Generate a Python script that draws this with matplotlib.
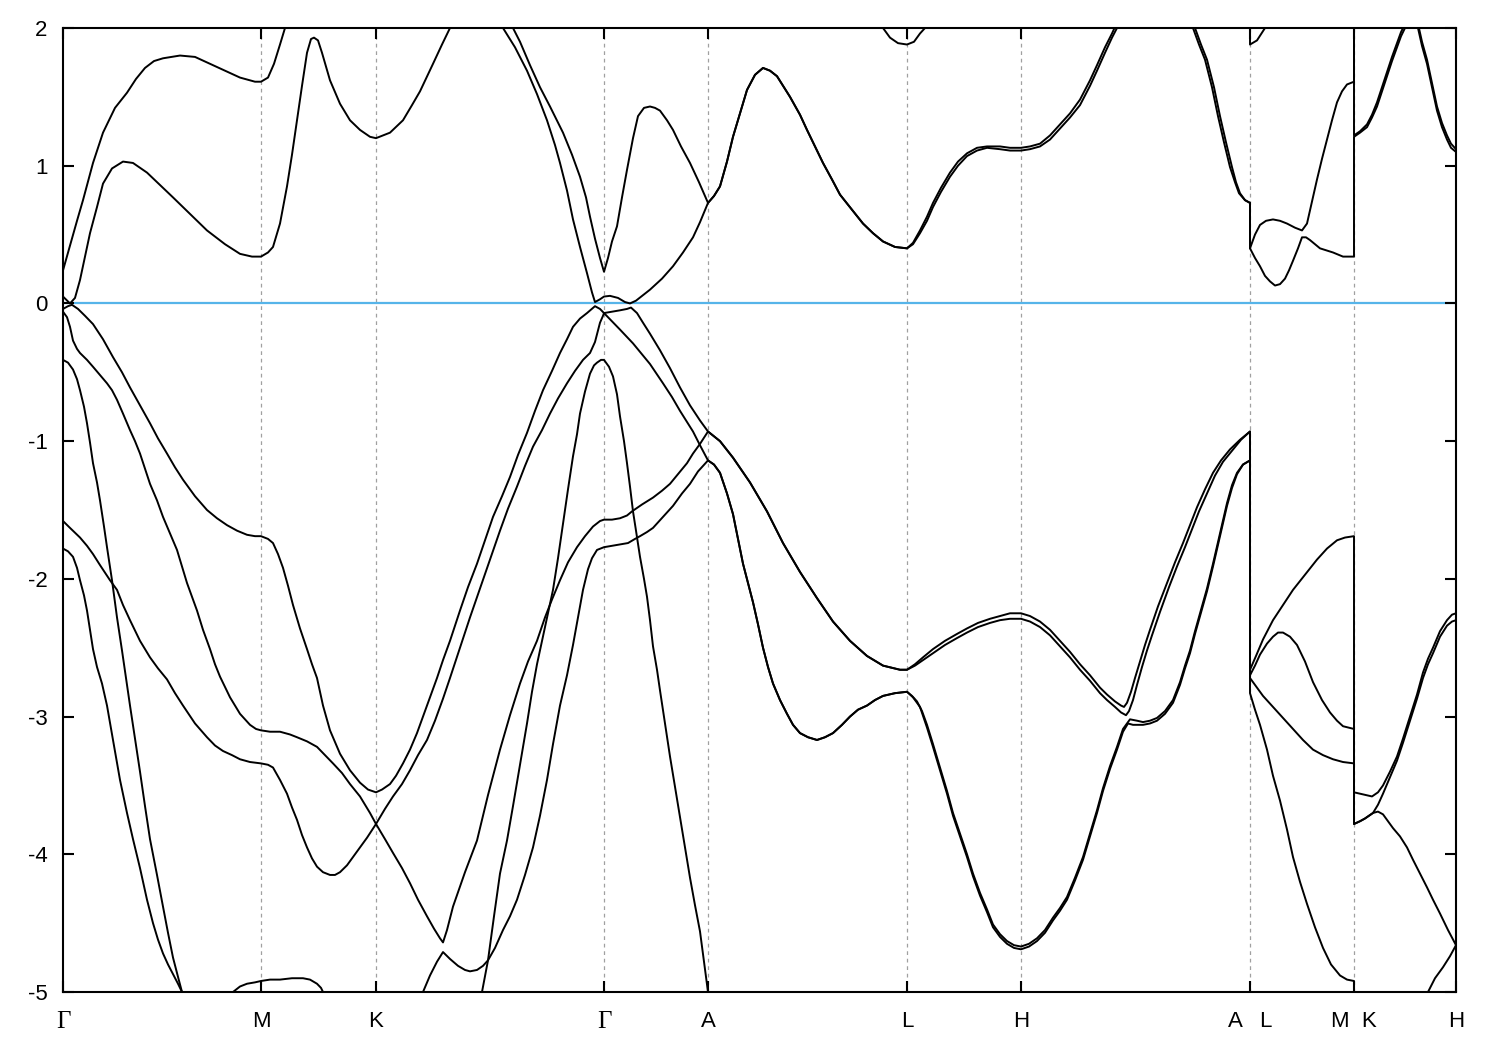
import numpy as np
import matplotlib.pyplot as plt

plt.rcParams['font.family'] = ['Liberation Sans', 'DejaVu Sans']
plt.rcParams['axes.unicode_minus'] = False

# high-symmetry points along the k-path
kticks = [0.00, 1.98, 3.13, 5.41, 6.45, 8.44, 9.58, 11.87, 12.91, 13.93]
klabels = ['Γ', 'M', 'K', 'Γ', 'A', 'L', 'H', 'A   L', 'M  K', 'H']

# ---------------- conduction bands ----------------
c1 = [(0.00, 0.24), (0.07, 0.42), (0.14, 0.60), (0.20, 0.75), (0.30, 1.02), (0.40, 1.24),
      (0.52, 1.42), (0.64, 1.53), (0.73, 1.63), (0.82, 1.71), (0.91, 1.76), (1.00, 1.78),
      (1.17, 1.80), (1.32, 1.79), (1.44, 1.75), (1.62, 1.69), (1.77, 1.64), (1.92, 1.61),
      (1.98, 1.61), (2.05, 1.64), (2.11, 1.74), (2.17, 1.88), (2.22, 2.00), (2.27, 2.20)]

c2 = [(0.00, 0.05), (0.07, 0.00), (0.12, 0.04), (0.17, 0.17), (0.22, 0.34), (0.27, 0.51),
      (0.34, 0.70), (0.40, 0.87), (0.49, 0.98), (0.60, 1.03), (0.70, 1.02), (0.84, 0.95),
      (0.97, 0.86), (1.10, 0.77), (1.27, 0.65), (1.44, 0.53), (1.62, 0.43), (1.77, 0.36),
      (1.89, 0.34), (1.98, 0.34), (2.05, 0.37), (2.10, 0.41), (2.17, 0.58), (2.24, 0.85),
      (2.29, 1.08), (2.34, 1.33), (2.39, 1.58), (2.44, 1.82), (2.48, 1.92), (2.51, 1.93),
      (2.55, 1.91), (2.59, 1.82), (2.67, 1.62), (2.77, 1.45), (2.87, 1.33), (2.97, 1.26),
      (3.07, 1.21), (3.13, 1.20), (3.27, 1.24), (3.40, 1.33), (3.49, 1.44), (3.57, 1.54),
      (3.70, 1.74), (3.79, 1.88), (3.87, 2.00), (3.93, 2.15)]

cA_kg = [(4.35, 2.15), (4.40, 2.00), (4.52, 1.86), (4.64, 1.69), (4.74, 1.52), (4.84, 1.33),
         (4.92, 1.15), (4.97, 1.02), (5.04, 0.82), (5.10, 0.61), (5.17, 0.41), (5.24, 0.22),
         (5.29, 0.08), (5.32, 0.01), (5.37, 0.03), (5.41, 0.05), (5.47, 0.055), (5.55, 0.04),
         (5.62, 0.01), (5.67, 0.00), (5.73, 0.02), (5.87, 0.10), (5.99, 0.18), (6.10, 0.27),
         (6.20, 0.37), (6.30, 0.48), (6.37, 0.59), (6.45, 0.73)]

cB_kg = [(4.45, 2.15), (4.50, 2.00), (4.57, 1.90), (4.67, 1.73), (4.77, 1.57), (4.87, 1.43),
         (5.00, 1.24), (5.09, 1.08), (5.17, 0.92), (5.23, 0.77), (5.27, 0.63), (5.32, 0.47),
         (5.37, 0.33), (5.41, 0.23), (5.45, 0.33), (5.49, 0.45), (5.54, 0.56), (5.59, 0.77),
         (5.64, 0.97), (5.70, 1.20), (5.75, 1.36), (5.81, 1.42), (5.87, 1.43), (5.92, 1.42),
         (5.97, 1.40), (6.04, 1.33), (6.10, 1.26), (6.18, 1.14), (6.27, 1.02), (6.36, 0.88),
         (6.45, 0.73)]

c_al = [(6.51, 0.78), (6.57, 0.85), (6.64, 1.03), (6.70, 1.21), (6.77, 1.38), (6.84, 1.55),
        (6.92, 1.66), (7.00, 1.71), (7.07, 1.69), (7.14, 1.65), (7.27, 1.50), (7.37, 1.37),
        (7.44, 1.26), (7.52, 1.14), (7.60, 1.02), (7.69, 0.90), (7.77, 0.79), (7.89, 0.68),
        (8.00, 0.58), (8.10, 0.51), (8.20, 0.45), (8.32, 0.41), (8.44, 0.40)]

cA_lha = [(8.50, 0.43), (8.57, 0.51), (8.64, 0.60), (8.70, 0.70), (8.78, 0.81), (8.87, 0.92),
          (8.95, 1.00), (9.04, 1.07), (9.14, 1.11), (9.24, 1.13), (9.37, 1.12), (9.47, 1.11),
          (9.58, 1.11), (9.67, 1.12), (9.77, 1.14), (9.87, 1.19), (9.97, 1.27), (10.07, 1.35),
          (10.17, 1.44), (10.27, 1.58), (10.34, 1.69), (10.42, 1.82), (10.49, 1.93), (10.54, 2.00),
          (10.59, 2.10), (11.25, 2.15), (11.32, 2.00), (11.38, 1.88), (11.44, 1.77), (11.51, 1.57),
          (11.57, 1.36), (11.63, 1.17), (11.69, 0.99), (11.73, 0.88), (11.77, 0.80), (11.82, 0.75),
          (11.87, 0.73)]

cB_lha = [(8.50, 0.44), (8.57, 0.53), (8.64, 0.63), (8.70, 0.73), (8.78, 0.84), (8.87, 0.95),
          (8.95, 1.03), (9.04, 1.09), (9.14, 1.13), (9.24, 1.14), (9.37, 1.14), (9.47, 1.13),
          (9.58, 1.13), (9.67, 1.14), (9.77, 1.16), (9.87, 1.22), (9.97, 1.30), (10.07, 1.38),
          (10.17, 1.48), (10.27, 1.62), (10.34, 1.73), (10.42, 1.86), (10.49, 1.96), (10.54, 2.04),
          (10.59, 2.14), (11.23, 2.15), (11.30, 2.00), (11.36, 1.88), (11.42, 1.77), (11.49, 1.57),
          (11.55, 1.36), (11.61, 1.17), (11.67, 0.99), (11.72, 0.88), (11.76, 0.80), (11.82, 0.75),
          (11.87, 0.73)]

cA_lmk = [(11.87, 0.40), (11.92, 0.50), (11.97, 0.57), (12.03, 0.60), (12.10, 0.61), (12.17, 0.60),
          (12.24, 0.58), (12.32, 0.55), (12.39, 0.53), (12.44, 0.58), (12.49, 0.74), (12.54, 0.90),
          (12.59, 1.05), (12.64, 1.19), (12.69, 1.33), (12.74, 1.46), (12.79, 1.54), (12.84, 1.59),
          (12.91, 1.61), (12.91, 2.40)]

cB_lmk = [(11.87, 0.40), (11.92, 0.33), (11.97, 0.27), (12.02, 0.20), (12.07, 0.16), (12.12, 0.13),
          (12.17, 0.14), (12.22, 0.18), (12.26, 0.24), (12.30, 0.31), (12.35, 0.40), (12.39, 0.48),
          (12.43, 0.48), (12.47, 0.46), (12.57, 0.40), (12.70, 0.37), (12.80, 0.34), (12.91, 0.34),
          (12.91, 1.21), (12.97, 1.24), (13.04, 1.28), (13.09, 1.35), (13.14, 1.43), (13.19, 1.54),
          (13.24, 1.65), (13.29, 1.76), (13.34, 1.86), (13.38, 1.94), (13.42, 2.00), (13.45, 2.10),
          (13.51, 2.10), (13.55, 2.00), (13.59, 1.87), (13.64, 1.74), (13.69, 1.57), (13.74, 1.40),
          (13.79, 1.28), (13.84, 1.19), (13.88, 1.13), (13.93, 1.10)]

cC = [(8.15, 2.12), (8.20, 2.00), (8.27, 1.93), (8.35, 1.89), (8.44, 1.88), (8.51, 1.90),
      (8.57, 1.96), (8.62, 2.00), (8.67, 2.12), (11.87, 2.40), (11.87, 1.88), (11.94, 1.91),
      (12.02, 2.00), (12.08, 2.12), (12.91, 2.40), (12.91, 1.22), (12.97, 1.25), (13.04, 1.30),
      (13.09, 1.37), (13.14, 1.46), (13.19, 1.57), (13.24, 1.68), (13.29, 1.79), (13.34, 1.89),
      (13.38, 1.97), (13.42, 2.03), (13.45, 2.12), (13.51, 2.12), (13.55, 2.03), (13.59, 1.90),
      (13.64, 1.77), (13.69, 1.60), (13.74, 1.43), (13.79, 1.31), (13.84, 1.22), (13.88, 1.16),
      (13.93, 1.12)]

# ---------------- valence bands ----------------
v1_gmkg = [(0.00, -0.04), (0.05, -0.02), (0.09, -0.01), (0.15, -0.04), (0.22, -0.09), (0.30, -0.15),
           (0.40, -0.26), (0.50, -0.39), (0.59, -0.50), (0.67, -0.61), (0.77, -0.74), (0.87, -0.87),
           (0.95, -0.98), (1.04, -1.09), (1.12, -1.19), (1.20, -1.28), (1.32, -1.40), (1.44, -1.50),
           (1.54, -1.56), (1.64, -1.61), (1.74, -1.65), (1.84, -1.68), (1.92, -1.69), (1.98, -1.69),
           (2.05, -1.71), (2.10, -1.74), (2.15, -1.82), (2.20, -1.92), (2.25, -2.05), (2.30, -2.19),
           (2.37, -2.36), (2.44, -2.51), (2.49, -2.62), (2.54, -2.72), (2.60, -2.92), (2.67, -3.10),
           (2.77, -3.27), (2.87, -3.39), (2.97, -3.48), (3.05, -3.53), (3.13, -3.55), (3.19, -3.53),
           (3.27, -3.49), (3.33, -3.43), (3.40, -3.34), (3.47, -3.24), (3.54, -3.12), (3.60, -3.00),
           (3.67, -2.86), (3.74, -2.72), (3.80, -2.59), (3.87, -2.45), (3.97, -2.23), (4.05, -2.06),
           (4.14, -1.89), (4.22, -1.72), (4.30, -1.55), (4.39, -1.40), (4.47, -1.26), (4.55, -1.10),
           (4.64, -0.94), (4.72, -0.78), (4.80, -0.63), (4.89, -0.49), (4.97, -0.36), (5.04, -0.26),
           (5.10, -0.17), (5.17, -0.11), (5.24, -0.07), (5.32, -0.02), (5.37, -0.04), (5.41, -0.07)]
v1_ga = [(5.49, -0.13), (5.57, -0.19), (5.70, -0.29), (5.87, -0.44), (6.00, -0.58), (6.09, -0.68),
         (6.17, -0.78), (6.24, -0.86), (6.30, -0.93), (6.37, -1.03), (6.45, -1.14)]

v2_gmkg = [(0.00, -0.06), (0.04, -0.10), (0.07, -0.17), (0.10, -0.27), (0.14, -0.33), (0.17, -0.36),
           (0.24, -0.41), (0.30, -0.46), (0.37, -0.52), (0.44, -0.58), (0.49, -0.63), (0.54, -0.70),
           (0.60, -0.80), (0.67, -0.92), (0.72, -1.00), (0.77, -1.09), (0.82, -1.20), (0.87, -1.31),
           (0.94, -1.43), (1.00, -1.55), (1.07, -1.67), (1.14, -1.79), (1.19, -1.91), (1.24, -2.03),
           (1.29, -2.13), (1.34, -2.23), (1.40, -2.37), (1.47, -2.51), (1.52, -2.62), (1.57, -2.71),
           (1.67, -2.86), (1.77, -2.98), (1.87, -3.06), (1.93, -3.09), (1.98, -3.10), (2.07, -3.11),
           (2.17, -3.11), (2.27, -3.13), (2.34, -3.15), (2.44, -3.18), (2.54, -3.22), (2.62, -3.28),
           (2.70, -3.34), (2.79, -3.41), (2.87, -3.49), (2.97, -3.58), (3.07, -3.70), (3.13, -3.78),
           (3.22, -3.89), (3.30, -3.99), (3.39, -4.10), (3.47, -4.21), (3.55, -4.33), (3.64, -4.45),
           (3.71, -4.54), (3.77, -4.61), (3.80, -4.64), (3.84, -4.55), (3.90, -4.38), (4.02, -4.13),
           (4.14, -3.90), (4.25, -3.57), (4.37, -3.24), (4.47, -2.99), (4.57, -2.76), (4.65, -2.60),
           (4.74, -2.45), (4.82, -2.28), (4.89, -2.15), (4.97, -2.01), (5.05, -1.88), (5.14, -1.77),
           (5.22, -1.69), (5.30, -1.62), (5.37, -1.58), (5.41, -1.57)]
v2_ga = [(5.49, -1.57), (5.57, -1.56), (5.64, -1.54), (5.69, -1.51), (5.79, -1.46), (5.90, -1.41),
         (5.99, -1.36), (6.07, -1.31), (6.16, -1.23), (6.24, -1.16), (6.30, -1.09), (6.37, -1.02),
         (6.45, -0.93)]

v3_gm = [(0.00, -0.41), (0.05, -0.43), (0.10, -0.48), (0.14, -0.55), (0.17, -0.63), (0.21, -0.75),
         (0.24, -0.87), (0.27, -1.01), (0.30, -1.16), (0.34, -1.30), (0.37, -1.43), (0.41, -1.62),
         (0.44, -1.77), (0.49, -2.01), (0.54, -2.28), (0.59, -2.52), (0.63, -2.72), (0.67, -2.92),
         (0.72, -3.16), (0.77, -3.40), (0.82, -3.65), (0.87, -3.89), (0.94, -4.15), (1.00, -4.38),
         (1.05, -4.57), (1.10, -4.75), (1.15, -4.89), (1.19, -5.00), (1.23, -5.20)]
v3_kga = [(4.15, -5.20), (4.19, -5.00), (4.25, -4.77), (4.31, -4.45), (4.37, -4.14), (4.44, -3.90),
          (4.50, -3.65), (4.57, -3.35), (4.64, -3.05), (4.69, -2.82), (4.74, -2.62), (4.82, -2.35),
          (4.90, -2.08), (4.95, -1.85), (5.00, -1.60), (5.05, -1.35), (5.10, -1.11), (5.14, -0.95),
          (5.17, -0.80), (5.22, -0.64), (5.27, -0.51), (5.31, -0.45), (5.34, -0.43), (5.38, -0.41),
          (5.41, -0.41), (5.46, -0.46), (5.50, -0.53), (5.54, -0.66), (5.57, -0.82), (5.61, -1.00),
          (5.64, -1.16), (5.67, -1.33), (5.70, -1.51), (5.73, -1.65), (5.77, -1.84), (5.81, -2.00),
          (5.84, -2.13), (5.87, -2.30), (5.90, -2.49), (5.94, -2.66), (5.97, -2.81), (6.02, -3.05),
          (6.07, -3.29), (6.12, -3.51), (6.17, -3.73), (6.22, -3.95), (6.27, -4.17), (6.32, -4.37),
          (6.37, -4.56), (6.41, -4.78), (6.45, -5.00), (6.47, -5.20)]

v4_gmkg = [(0.00, -1.58), (0.07, -1.63), (0.17, -1.70), (0.24, -1.76), (0.30, -1.82), (0.37, -1.90),
           (0.47, -2.01), (0.54, -2.08), (0.60, -2.19), (0.67, -2.30), (0.77, -2.45), (0.87, -2.57),
           (0.95, -2.65), (1.04, -2.73), (1.12, -2.83), (1.20, -2.92), (1.32, -3.05), (1.44, -3.15),
           (1.52, -3.21), (1.60, -3.25), (1.69, -3.28), (1.77, -3.31), (1.87, -3.33), (1.98, -3.34),
           (2.05, -3.35), (2.10, -3.37), (2.17, -3.46), (2.24, -3.56), (2.29, -3.66), (2.34, -3.75),
           (2.39, -3.86), (2.44, -3.95), (2.49, -4.03), (2.54, -4.09), (2.60, -4.13), (2.67, -4.15),
           (2.72, -4.15), (2.77, -4.13), (2.84, -4.08), (2.90, -4.02), (2.97, -3.95), (3.04, -3.88),
           (3.13, -3.78), (3.22, -3.67), (3.30, -3.58), (3.39, -3.49), (3.47, -3.39), (3.55, -3.28),
           (3.64, -3.17), (3.72, -3.03), (3.80, -2.87), (3.87, -2.72), (3.97, -2.50), (4.07, -2.28),
           (4.17, -2.07), (4.27, -1.86), (4.37, -1.65), (4.45, -1.49), (4.54, -1.33), (4.62, -1.18),
           (4.70, -1.04), (4.79, -0.92), (4.87, -0.80), (4.95, -0.69), (5.04, -0.58), (5.12, -0.49),
           (5.20, -0.41), (5.27, -0.36), (5.32, -0.28), (5.37, -0.14), (5.40, -0.09), (5.41, -0.07)]
v4_ga = [(5.49, -0.06), (5.57, -0.05), (5.64, -0.04), (5.68, -0.03), (5.74, -0.07), (5.80, -0.14),
         (5.87, -0.22), (5.97, -0.34), (6.07, -0.47), (6.17, -0.61), (6.27, -0.74), (6.37, -0.85),
         (6.45, -0.93)]

v5_gm = [(0.00, -1.78), (0.05, -1.80), (0.10, -1.84), (0.14, -1.92), (0.17, -2.01), (0.21, -2.12),
         (0.24, -2.23), (0.27, -2.37), (0.30, -2.51), (0.34, -2.64), (0.39, -2.76), (0.44, -2.92),
         (0.50, -3.17), (0.57, -3.46), (0.64, -3.70), (0.70, -3.89), (0.77, -4.10), (0.84, -4.33),
         (0.90, -4.50), (0.95, -4.62), (1.00, -4.72), (1.05, -4.80), (1.10, -4.87), (1.15, -4.94),
         (1.19, -5.00), (1.23, -5.20), (1.65, -5.20), (1.70, -5.00), (1.77, -4.96), (1.84, -4.94),
         (1.92, -4.93), (1.98, -4.92), (2.07, -4.91), (2.17, -4.91), (2.29, -4.90), (2.40, -4.90),
         (2.47, -4.91), (2.54, -4.94), (2.58, -4.97), (2.60, -5.00), (2.65, -5.20)]
v5_kga = [(3.55, -5.20), (3.60, -5.00), (3.67, -4.88), (3.74, -4.78), (3.80, -4.71), (3.87, -4.76),
          (3.95, -4.81), (4.02, -4.84), (4.07, -4.85), (4.14, -4.84), (4.20, -4.81), (4.25, -4.77),
          (4.32, -4.68), (4.40, -4.55), (4.47, -4.45), (4.54, -4.33), (4.62, -4.15), (4.70, -3.95),
          (4.77, -3.72), (4.84, -3.46), (4.90, -3.20), (4.97, -2.92), (5.04, -2.70), (5.10, -2.48),
          (5.15, -2.28), (5.20, -2.08), (5.25, -1.93), (5.29, -1.85), (5.34, -1.79), (5.41, -1.77),
          (5.49, -1.76), (5.57, -1.75), (5.65, -1.74), (5.72, -1.71), (5.77, -1.69), (5.84, -1.66),
          (5.90, -1.63), (6.00, -1.55), (6.10, -1.47), (6.19, -1.38), (6.27, -1.31), (6.35, -1.22),
          (6.45, -1.14)]

# A-L valence branches (shared by two bands each)
al_up = [(6.57, -1.00), (6.70, -1.12), (6.87, -1.30), (7.04, -1.51), (7.20, -1.74), (7.37, -1.95),
         (7.54, -2.14), (7.70, -2.31), (7.87, -2.45), (8.04, -2.56), (8.20, -2.63), (8.37, -2.66),
         (8.44, -2.66)]
al_lo = [(6.51, -1.17), (6.57, -1.23), (6.64, -1.38), (6.70, -1.53), (6.75, -1.71), (6.80, -1.89),
         (6.85, -2.03), (6.90, -2.17), (6.95, -2.33), (7.00, -2.50), (7.05, -2.64), (7.10, -2.76),
         (7.17, -2.88), (7.24, -2.98), (7.30, -3.06), (7.37, -3.12), (7.45, -3.15), (7.54, -3.17),
         (7.62, -3.15), (7.70, -3.12), (7.79, -3.06), (7.87, -3.00), (7.95, -2.95), (8.04, -2.92),
         (8.12, -2.88), (8.20, -2.85), (8.32, -2.83), (8.44, -2.82)]

v1_lhalmkh = [(8.49, -2.85), (8.54, -2.89), (8.59, -2.96), (8.64, -3.06), (8.70, -3.20), (8.77, -3.37),
              (8.84, -3.54), (8.90, -3.70), (8.97, -3.85), (9.04, -4.00), (9.10, -4.14), (9.17, -4.28),
              (9.24, -4.40), (9.30, -4.51), (9.37, -4.58), (9.44, -4.63), (9.51, -4.66), (9.58, -4.67),
              (9.66, -4.65), (9.74, -4.61), (9.82, -4.55), (9.90, -4.46), (9.97, -4.39), (10.04, -4.31),
              (10.12, -4.17), (10.20, -4.02), (10.27, -3.85), (10.34, -3.68), (10.40, -3.52), (10.47, -3.36),
              (10.54, -3.22), (10.60, -3.09), (10.67, -3.02), (10.74, -3.03), (10.80, -3.04), (10.87, -3.03),
              (10.94, -3.01), (11.02, -2.96), (11.10, -2.88), (11.17, -2.75), (11.22, -2.63), (11.27, -2.52),
              (11.32, -2.38), (11.37, -2.25), (11.44, -2.07), (11.50, -1.89), (11.57, -1.67), (11.64, -1.45),
              (11.69, -1.32), (11.74, -1.23), (11.80, -1.17), (11.87, -1.14),
              (11.87, -2.83), (11.92, -2.95), (11.97, -3.06), (12.04, -3.24), (12.10, -3.43), (12.17, -3.61),
              (12.24, -3.82), (12.30, -4.02), (12.37, -4.20), (12.44, -4.36), (12.52, -4.53), (12.60, -4.68),
              (12.68, -4.80), (12.77, -4.88), (12.84, -4.91), (12.91, -4.92), (12.91, -5.50), (13.57, -5.30),
              (13.65, -5.00), (13.72, -4.90), (13.80, -4.82), (13.87, -4.74), (13.93, -4.66)]

v5_lhalmkh = [(8.50, -2.86), (8.57, -2.93), (8.64, -3.08), (8.70, -3.22), (8.77, -3.39), (8.84, -3.56),
              (8.90, -3.72), (8.97, -3.87), (9.04, -4.02), (9.10, -4.16), (9.17, -4.30), (9.24, -4.42),
              (9.30, -4.53), (9.37, -4.60), (9.44, -4.65), (9.51, -4.68), (9.58, -4.69), (9.66, -4.67),
              (9.74, -4.63), (9.82, -4.57), (9.90, -4.48), (9.97, -4.41), (10.04, -4.33), (10.12, -4.19),
              (10.20, -4.04), (10.27, -3.87), (10.34, -3.70), (10.40, -3.54), (10.47, -3.38), (10.54, -3.24),
              (10.60, -3.11), (10.65, -3.05), (10.70, -3.06), (10.80, -3.06), (10.87, -3.05), (10.94, -3.03),
              (11.02, -2.98), (11.10, -2.90), (11.17, -2.77), (11.22, -2.65), (11.27, -2.54), (11.32, -2.40),
              (11.37, -2.27), (11.44, -2.09), (11.50, -1.91), (11.57, -1.69), (11.64, -1.47), (11.69, -1.34),
              (11.74, -1.24), (11.80, -1.17), (11.87, -1.14),
              (11.87, -2.72), (11.92, -2.77), (12.00, -2.85), (12.10, -2.93), (12.20, -3.01), (12.30, -3.09),
              (12.40, -3.17), (12.50, -3.24), (12.60, -3.28), (12.70, -3.31), (12.80, -3.33), (12.91, -3.34),
              (12.91, -3.78), (12.97, -3.76), (13.02, -3.74), (13.10, -3.70), (13.15, -3.69), (13.20, -3.71),
              (13.24, -3.75), (13.30, -3.81), (13.37, -3.87), (13.44, -3.95), (13.50, -4.04), (13.57, -4.14),
              (13.64, -4.24), (13.70, -4.33), (13.77, -4.43), (13.85, -4.55), (13.93, -4.66)]

v2_lhalmkh = [(8.52, -2.62), (8.60, -2.57), (8.70, -2.51), (8.82, -2.45), (8.94, -2.40), (9.04, -2.36),
              (9.15, -2.32), (9.27, -2.29), (9.37, -2.27), (9.47, -2.25), (9.58, -2.25), (9.67, -2.27),
              (9.77, -2.31), (9.87, -2.37), (9.97, -2.45), (10.07, -2.53), (10.17, -2.62), (10.27, -2.70),
              (10.37, -2.79), (10.44, -2.84), (10.52, -2.89), (10.58, -2.92), (10.61, -2.93), (10.64, -2.90),
              (10.68, -2.82), (10.72, -2.72), (10.77, -2.60), (10.82, -2.48), (10.87, -2.37), (10.95, -2.20),
              (11.04, -2.03), (11.12, -1.88), (11.20, -1.74), (11.27, -1.61), (11.34, -1.48), (11.42, -1.35),
              (11.50, -1.23), (11.58, -1.14), (11.67, -1.06), (11.77, -0.99), (11.87, -0.93),
              (11.87, -2.66), (11.93, -2.56), (12.00, -2.44), (12.10, -2.30), (12.20, -2.19), (12.30, -2.08),
              (12.42, -1.97), (12.54, -1.86), (12.64, -1.78), (12.74, -1.72), (12.82, -1.70), (12.91, -1.69),
              (12.91, -3.55), (12.97, -3.56), (13.03, -3.57), (13.09, -3.58), (13.15, -3.55), (13.20, -3.50),
              (13.27, -3.40), (13.34, -3.29), (13.40, -3.16), (13.47, -3.00), (13.54, -2.84), (13.60, -2.68),
              (13.65, -2.58), (13.70, -2.50), (13.77, -2.38), (13.84, -2.30), (13.89, -2.26), (13.93, -2.25)]

v4_lhalmkh = [(8.52, -2.63), (8.60, -2.59), (8.70, -2.54), (8.82, -2.48), (8.94, -2.43), (9.04, -2.39),
              (9.15, -2.35), (9.27, -2.32), (9.37, -2.30), (9.47, -2.29), (9.58, -2.29), (9.67, -2.31),
              (9.77, -2.35), (9.87, -2.41), (9.97, -2.49), (10.07, -2.57), (10.17, -2.66), (10.27, -2.74),
              (10.37, -2.83), (10.44, -2.88), (10.52, -2.93), (10.58, -2.97), (10.63, -2.99), (10.66, -2.96),
              (10.70, -2.88), (10.74, -2.77), (10.79, -2.64), (10.84, -2.52), (10.89, -2.41), (10.97, -2.24),
              (11.06, -2.06), (11.14, -1.91), (11.22, -1.77), (11.29, -1.64), (11.36, -1.51), (11.44, -1.38),
              (11.52, -1.25), (11.60, -1.15), (11.69, -1.07), (11.78, -0.99), (11.87, -0.93),
              (11.87, -2.70), (11.92, -2.63), (11.97, -2.55), (12.04, -2.47), (12.10, -2.42), (12.15, -2.39),
              (12.20, -2.39), (12.27, -2.42), (12.34, -2.48), (12.42, -2.60), (12.50, -2.75), (12.59, -2.88),
              (12.67, -2.97), (12.74, -3.03), (12.80, -3.07), (12.91, -3.09),
              (12.91, -3.78), (12.97, -3.76), (13.02, -3.74), (13.10, -3.70), (13.15, -3.64), (13.20, -3.56),
              (13.27, -3.44), (13.34, -3.32), (13.40, -3.19), (13.47, -3.03), (13.54, -2.87), (13.60, -2.72),
              (13.65, -2.62), (13.70, -2.54), (13.77, -2.42), (13.84, -2.34), (13.89, -2.31), (13.93, -2.30)]

bands = [
    c1, c2, cC,
    cA_kg + c_al + cA_lha + cA_lmk,
    cB_kg + c_al + cB_lha + cB_lmk,
    v1_gmkg + v1_ga + al_lo + v1_lhalmkh,
    v5_gm, v5_kga + al_lo + v5_lhalmkh,
    v2_gmkg + v2_ga + al_up + v2_lhalmkh,
    v4_gmkg + v4_ga + al_up + v4_lhalmkh,
    v3_gm, v3_kga,
]

fig = plt.figure(figsize=(15, 10.5), dpi=100)
ax = fig.add_axes([63 / 1500, 1 - 992 / 1050, (1456 - 63) / 1500, (992 - 28) / 1050])

for k in kticks[1:-1]:
    ax.axvline(k, color='#a0a0a0', lw=0.9, ls=(0, (3, 3)), zorder=0)
ax.axhline(0, color='#56B4E9', lw=1.6, zorder=1)

for b in bands:
    arr = np.array(b)
    ax.plot(arr[:, 0], arr[:, 1], color='black', lw=1.4, zorder=2)

ax.set_xlim(kticks[0], kticks[-1])
ax.set_ylim(-5, 2)
ax.set_xticks(kticks)
ax.set_xticklabels(klabels)
ax.set_yticks(range(-5, 3))
ax.tick_params(direction='in', length=8, width=1.5, top=True, right=True,
               labelsize=16, pad=11)
ax.tick_params(axis='x', pad=14)
for lab in ax.get_xticklabels():
    if lab.get_text() == 'Γ':
        lab.set_fontfamily('Liberation Serif')
        lab.set_fontsize(18)
for s in ax.spines.values():
    s.set_linewidth(1.5)

fig.savefig('out.png', dpi=100)
